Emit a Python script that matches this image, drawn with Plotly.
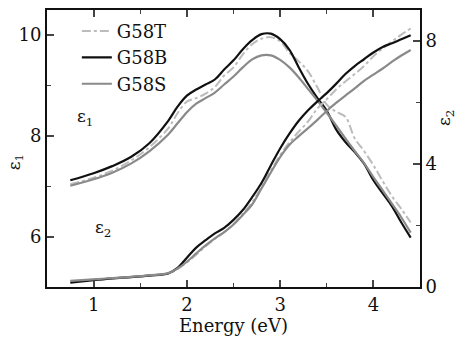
import plotly.graph_objects as go

energy = [0.75, 1.0, 1.2, 1.4, 1.6, 1.8, 1.9, 2.0, 2.1, 2.2, 2.3, 2.4, 2.5, 2.6, 2.7, 2.8,
          2.9, 3.0, 3.1, 3.2, 3.3, 3.4, 3.5, 3.6, 3.7, 3.8, 3.9, 4.0, 4.1, 4.2, 4.3, 4.4]

eps1_G58T = [7.04, 7.17, 7.31, 7.51, 7.78, 8.15, 8.45, 8.68, 8.75, 8.84, 8.97, 9.20, 9.36, 9.62,
             9.82, 9.93, 9.96, 9.88, 9.65, 9.48, 9.28, 8.96, 8.62, 8.48, 8.38, 7.95, 7.70, 7.42,
             7.10, 6.80, 6.55, 6.28]
eps1_G58B = [7.12, 7.26, 7.40, 7.58, 7.86, 8.30, 8.58, 8.80, 8.92, 9.02, 9.12, 9.32, 9.50, 9.72,
             9.90, 10.02, 10.03, 9.92, 9.71, 9.36, 9.03, 8.75, 8.50, 8.13, 7.88, 7.68, 7.45, 7.12,
             6.86, 6.60, 6.28, 5.98]
eps1_G58S = [7.01, 7.14, 7.27, 7.45, 7.70, 8.03, 8.25, 8.47, 8.64, 8.75, 8.86, 9.02, 9.18, 9.36,
             9.52, 9.60, 9.60, 9.51, 9.36, 9.16, 8.93, 8.70, 8.46, 8.21, 7.95, 7.70, 7.46, 7.18,
             6.92, 6.65, 6.38, 6.08]

eps2_G58T = [0.18, 0.24, 0.28, 0.32, 0.37, 0.44, 0.58, 0.80, 1.05, 1.32, 1.56, 1.78, 2.05, 2.38,
             2.75, 3.25, 3.78, 4.28, 4.70, 5.05, 5.38, 5.80, 6.10, 6.42, 6.68, 6.92, 7.18, 7.50,
             7.75, 7.98, 8.20, 8.40]
eps2_G58B = [0.14, 0.22, 0.28, 0.32, 0.37, 0.44, 0.62, 0.95, 1.28, 1.52, 1.74, 1.92, 2.18, 2.50,
             2.92, 3.38, 3.95, 4.50, 4.98, 5.40, 5.74, 6.03, 6.30, 6.60, 6.92, 7.18, 7.40, 7.62,
             7.80, 7.92, 8.05, 8.18]
eps2_G58S = [0.20, 0.25, 0.29, 0.33, 0.38, 0.45, 0.60, 0.82, 1.09, 1.35, 1.58, 1.78, 2.03, 2.34,
             2.68, 3.20, 3.72, 4.22, 4.62, 4.90, 5.16, 5.43, 5.72, 5.98, 6.22, 6.45, 6.70, 6.90,
             7.10, 7.32, 7.52, 7.70]

x_ticks = [1, 2, 3, 4]
y1_ticks = [6, 8, 10]
y2_ticks = [0, 4, 8]

FONT = "DejaVu Serif"
styles = {
    "G58T": dict(color="#bcbcbc", width=2, dash="dashdot"),
    "G58B": dict(color="#111111", width=2.2),
    "G58S": dict(color="#8a8a8a", width=2.2),
}

fig = go.Figure()
series1 = {"G58T": eps1_G58T, "G58B": eps1_G58B, "G58S": eps1_G58S}
series2 = {"G58T": eps2_G58T, "G58B": eps2_G58B, "G58S": eps2_G58S}
for name, vals in series1.items():
    fig.add_trace(go.Scatter(x=energy, y=vals, mode="lines", name=name, line=styles[name],
                             line_shape="spline", legendgroup=name, yaxis="y"))
for name, vals in series2.items():
    fig.add_trace(go.Scatter(x=energy, y=vals, mode="lines", name=name, line=styles[name],
                             line_shape="spline", legendgroup=name, showlegend=False, yaxis="y2"))

fig.update_layout(
    width=456, height=337,
    margin=dict(l=47, r=36, t=10, b=50, autoexpand=False),
    paper_bgcolor="white", plot_bgcolor="white",
    font=dict(family=FONT, size=18, color="#111111"),
    showlegend=True,
    legend=dict(x=0.08, y=0.99, xanchor="left", yanchor="top", bgcolor="rgba(0,0,0,0)",
                font=dict(family=FONT, size=18), tracegroupgap=0, itemwidth=30),
    xaxis=dict(range=[0.5, 4.5], tickvals=x_ticks, ticks="inside", ticklen=7, tickwidth=1.5,
               showline=True, linewidth=2, linecolor="#111111", mirror="ticks", showgrid=False,
               zeroline=False, tickfont=dict(family=FONT, size=18),
               minor=dict(dtick=0.5, tick0=0.5, ticks="inside", ticklen=4, tickwidth=1.2,
                          showgrid=False),
               title=dict(text="Energy (eV)", font=dict(family=FONT, size=18), standoff=2)),
    yaxis=dict(range=[5, 10.5], tickvals=y1_ticks, ticks="inside", ticklen=7, tickwidth=1.5,
               showline=True, linewidth=2, linecolor="#111111", showgrid=False, zeroline=False,
               tickfont=dict(family=FONT, size=18),
               minor=dict(dtick=1, tick0=5, ticks="inside", ticklen=4, tickwidth=1.2,
                          showgrid=False)),
    yaxis2=dict(range=[0, 9], tickvals=y2_ticks, ticks="inside", ticklen=7, tickwidth=1.5,
                overlaying="y", side="right", anchor="x",
                showline=True, linewidth=2, linecolor="#111111", showgrid=False, zeroline=False,
                tickfont=dict(family=FONT, size=18),
                minor=dict(dtick=2, tick0=0, ticks="inside", ticklen=4, tickwidth=1.2,
                           showgrid=False)),
    annotations=[
        dict(x=-0.086, y=0.45, xref="paper", yref="paper", text="ε<sub>1</sub>",
             xanchor="center", yanchor="middle",
             showarrow=False, textangle=-90, font=dict(family=FONT, size=17)),
        dict(x=1.067, y=0.61, xref="paper", yref="paper", text="ε<sub>2</sub>",
             xanchor="center", yanchor="middle",
             showarrow=False, textangle=-90, font=dict(family=FONT, size=17)),
        dict(x=0.91, y=8.37, xref="x", yref="y", text="ε<sub>1</sub>", showarrow=False,
             font=dict(family=FONT, size=17)),
        dict(x=1.1, y=6.16, xref="x", yref="y", text="ε<sub>2</sub>", showarrow=False,
             font=dict(family=FONT, size=17)),
    ],
)

fig.write_html("out.html")
